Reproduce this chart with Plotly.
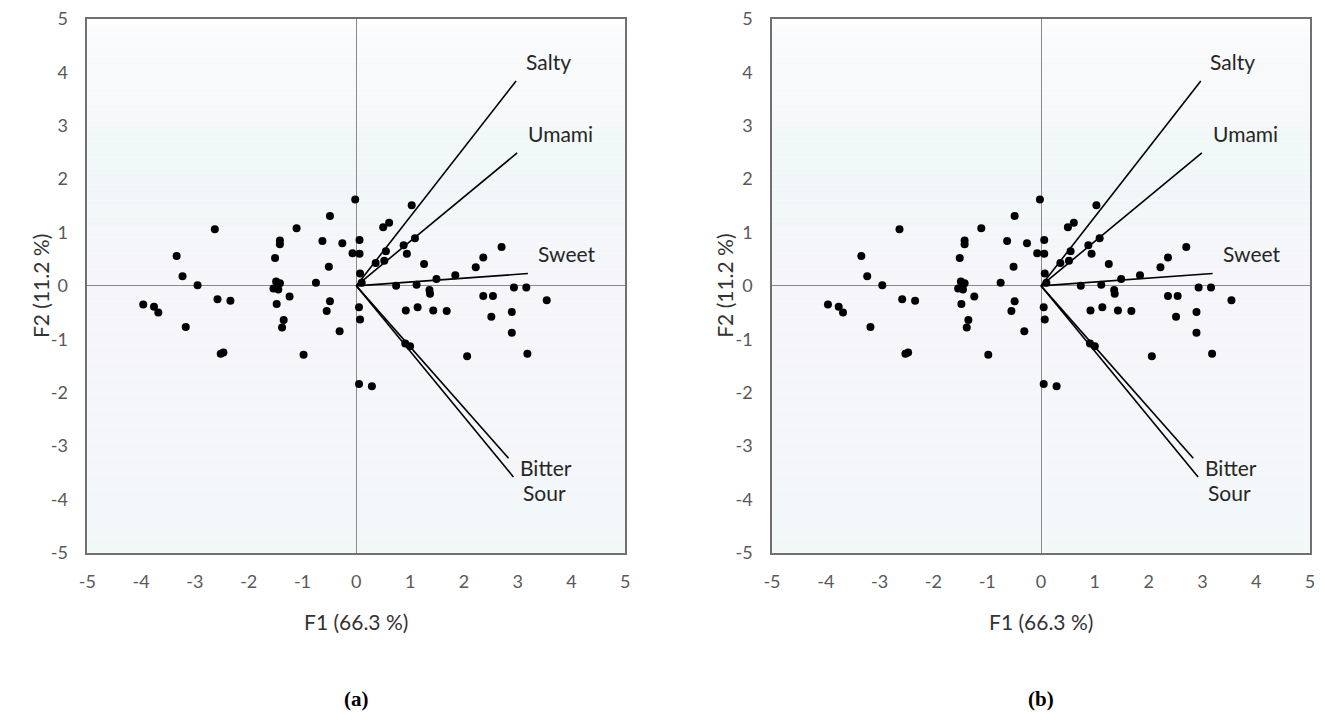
import plotly.graph_objects as go

# ---- data: observation scores (F1, F2) ----
obs_f1 = [-0.02, -0.49, -2.63, -1.11, -1.42, -1.42, -0.63, -0.26, 0.06, -0.07,
          0.06, -3.34, -1.51, -0.51, -3.23, 0.07, -2.95, -1.49, -1.42, -1.54,
          -1.45, -0.75, -3.96, -3.76, -3.68, -2.58, -2.34, -3.17, -2.52, -2.47,
          -1.48, -1.24, -1.35, -1.38, -0.98, -0.49, -0.55, -0.31, 0.05, 0.07,
          0.05, 0.29, 1.03, 0.50, 0.61, 0.55, 0.88, 0.94, 1.09, 0.36,
          0.52, 1.26, 2.70, 2.36, 2.22, 1.84, 1.49, 0.74, 1.12, 1.36,
          1.37, 2.93, 3.16, 2.36, 2.54, 3.54, 0.92, 1.14, 1.43, 1.68,
          2.51, 2.89, 2.89, 0.91, 1.00, 2.06, 3.18, 0.10]
obs_f2 = [1.62, 1.31, 1.06, 1.08, 0.85, 0.78, 0.84, 0.80, 0.86, 0.61,
          0.60, 0.56, 0.52, 0.36, 0.18, 0.23, 0.01, 0.08, 0.05, -0.05,
          -0.07, 0.06, -0.35, -0.39, -0.50, -0.25, -0.28, -0.77, -1.27, -1.25,
          -0.34, -0.20, -0.64, -0.78, -1.29, -0.29, -0.47, -0.85, -0.40, -0.63,
          -1.84, -1.88, 1.51, 1.10, 1.18, 0.65, 0.76, 0.60, 0.89, 0.43,
          0.47, 0.41, 0.73, 0.53, 0.35, 0.20, 0.13, 0.00, 0.02, -0.08,
          -0.15, -0.03, -0.03, -0.19, -0.19, -0.27, -0.46, -0.40, -0.46, -0.47,
          -0.58, -0.49, -0.88, -1.08, -1.13, -1.32, -1.27, 0.06]

# ---- data: variable vectors ----
var_names = ["Salty", "Umami", "Sweet", "Bitter", "Sour"]
var_f1 = [2.97, 2.99, 3.19, 2.83, 2.92]
var_f2 = [3.84, 2.49, 0.23, -3.23, -3.58]
label_f1 = [3.13, 3.18, 3.36, 3.03, 3.08]
label_f2 = [4.20, 2.86, 0.60, -3.40, -3.87]

panel_tags = ["(a)", "(b)"]
tick_vals = [-5, -4, -3, -2, -1, 0, 1, 2, 3, 4, 5]
tick_text = ["-5", "-4", "-3", "-2", "-1", "0", "1", "2", "3", "4", "5"]
x_title = "F1 (66.3 %)"
y_title = "F2 (11.2 %)"

# ---- layout geometry (page has an 8px body margin) ----
OFF = 8
W, H = 1325 - OFF, 720 - OFF


def px_x(p):
    return (p - OFF) / W


def px_y(p):
    return 1 - (p - OFF) / H


x_px = [[87.3, 625.3], [772.0, 1310.0]]
x_domains = [[px_x(a), px_x(b)] for a, b in x_px]
y_domain = [px_y(552.7), px_y(19.0)]

FONT = "Lato, 'Open Sans', sans-serif"

# background gradient stops (y value -> rgb)
grad_stops = [
    (5.0, (255, 255, 255)),
    (4.6, (249, 250, 252)),
    (3.0, (247, 248, 250)),
    (2.9, (241, 248, 248)),
    (1.6, (241, 247, 248)),
    (1.0, (244, 246, 249)),
    (0.0, (245, 245, 250)),
    (-3.0, (245, 246, 250)),
    (-4.0, (243, 247, 249)),
    (-5.0, (241, 248, 248)),
]


def grad_color(yv):
    for (y0, c0), (y1, c1) in zip(grad_stops[:-1], grad_stops[1:]):
        if y1 <= yv <= y0:
            t = (y0 - yv) / (y0 - y1) if y0 != y1 else 0
            c = [round(a + (b - a) * t) for a, b in zip(c0, c1)]
            return "rgb(%d,%d,%d)" % tuple(c)
    return "rgb(245,245,250)"


fig = go.Figure()
shapes = []
annotations = []

for i in range(2):
    sfx = "" if i == 0 else str(i + 1)
    xa, ya = "x" + sfx, "y" + sfx

    # vectors
    lx, ly = [], []
    for vx, vy in zip(var_f1, var_f2):
        lx += [0, vx, None]
        ly += [0, vy, None]
    fig.add_trace(go.Scatter(x=lx, y=ly, mode="lines",
                             line=dict(color="black", width=1.6),
                             xaxis=xa, yaxis=ya, showlegend=False,
                             hoverinfo="skip"))
    # observations
    fig.add_trace(go.Scatter(x=obs_f1, y=obs_f2, mode="markers",
                             marker=dict(color="black", size=8),
                             xaxis=xa, yaxis=ya, showlegend=False))

    for name, tx, ty in zip(var_names, label_f1, label_f2):
        annotations.append(dict(x=tx, y=ty, xref=xa, yref=ya, text=name,
                                showarrow=False, xanchor="left",
                                yanchor="middle", borderpad=0,
                                font=dict(family=FONT, size=21,
                                          color="#262626")))

    # background gradient bands
    n = 100
    for k in range(n):
        y0 = 5 - 10 * k / n
        y1 = 5 - 10 * (k + 1) / n
        shapes.append(dict(type="rect", xref=xa + " domain", yref=ya,
                           x0=0, x1=1, y0=y1, y1=y0, layer="below",
                           line=dict(width=0),
                           fillcolor=grad_color((y0 + y1) / 2)))

    cx = sum(x_domains[i]) / 2
    # axis titles
    annotations.append(dict(x=cx, y=px_y(621), xref="paper", yref="paper",
                            text=x_title, showarrow=False, xanchor="center",
                            yanchor="middle",
                            font=dict(family=FONT, size=21, color="#333333")))
    annotations.append(dict(x=px_x(x_px[i][0] - 47), y=px_y(285.8),
                            xref="paper", yref="paper", text=y_title,
                            textangle=-90, showarrow=False, xanchor="center",
                            yanchor="middle",
                            font=dict(family=FONT, size=21, color="#333333")))
    # panel tags
    annotations.append(dict(x=cx, y=px_y(699), xref="paper", yref="paper",
                            text="<b>" + panel_tags[i] + "</b>",
                            showarrow=False, xanchor="center", yanchor="middle",
                            font=dict(family="'Liberation Serif', 'Times New Roman', serif",
                                      size=21, color="black")))

axis_common = dict(range=[-5, 5], tickvals=tick_vals, ticktext=tick_text,
                   showgrid=False, automargin=False,
                   ticklabeloverflow="allow",
                   zeroline=True, zerolinecolor="#8a8a8a", zerolinewidth=1.2,
                   showline=True, mirror=True, linecolor="#707070",
                   linewidth=1.5, ticks="",
                   tickfont=dict(family=FONT, size=18, color="#595959"),
                   fixedrange=True)

layout = dict(
    width=W, height=H,
    margin=dict(l=0, r=0, t=0, b=0),
    paper_bgcolor="white", plot_bgcolor="white",
    shapes=shapes, annotations=annotations,
)
for i in range(2):
    sfx = "" if i == 0 else str(i + 1)
    layout["xaxis" + sfx] = dict(axis_common, domain=x_domains[i],
                                 anchor="y" + sfx, ticklabelstandoff=12)
    layout["yaxis" + sfx] = dict(axis_common, domain=y_domain,
                                 anchor="x" + sfx, ticklabelstandoff=14)

fig.update_layout(**layout)
fig.write_html("out.html")
